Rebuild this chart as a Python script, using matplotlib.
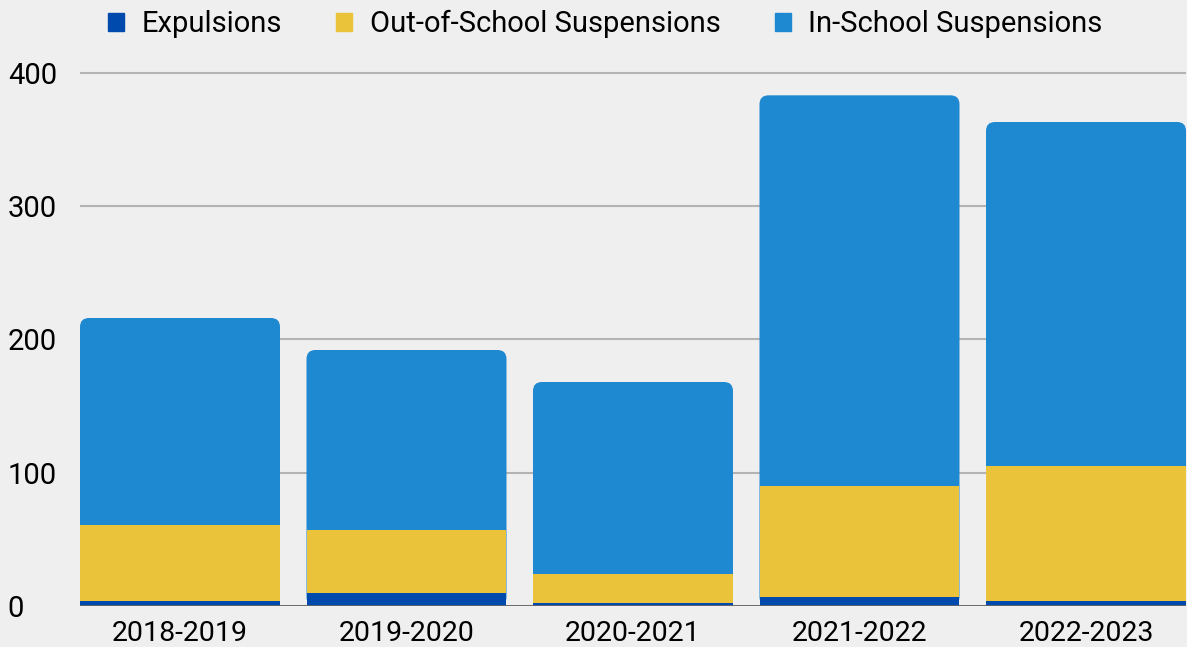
import numpy as np
import matplotlib.pyplot as plt
from matplotlib.patches import FancyBboxPatch, Patch

plt.rcParams['font.family'] = ['Roboto', 'DejaVu Sans']

anos = ["2018-2019", "2019-2020", "2020-2021", "2021-2022", "2022-2023"]
expulsoes = [4, 10, 2, 7, 4]
suspensoes_fora = [57, 47, 22, 83, 101]
suspensoes_dentro = [155, 135, 144, 293, 258]

cor_exp = "#004aad"
cor_fora = "#ebc33b"
cor_dentro = "#1e88d0"
fundo = "#efefef"

x = np.arange(len(anos))
w = 0.883
exp = np.array(expulsoes)
fora = np.array(suspensoes_fora)
dentro = np.array(suspensoes_dentro)
total = exp + fora + dentro

fig = plt.figure(figsize=(11.87, 6.47), dpi=100, facecolor=fundo)
ax = fig.add_axes([80 / 1187, 41 / 647, 1106 / 1187, 540 / 647])
ax.set_facecolor(fundo)

# segmento de cima com cantos arredondados
ppx = 1106 / (len(anos) - 1 + w)  # px por unidade x
ppy = 540 / 405                   # px por unidade y
r = 9 / ppx
for xi, t in zip(x, total):
    caixa = FancyBboxPatch((xi - w / 2 + r, r * ppx / ppy), w - 2 * r, t - 2 * r * ppx / ppy,
                           boxstyle=f"round,pad={r}", mutation_aspect=ppx / ppy,
                           facecolor=cor_dentro, edgecolor="none", zorder=2)
    ax.add_patch(caixa)

ax.bar(x, fora, w, bottom=exp, color=cor_fora, zorder=3)
ax.bar(x, exp, w, color=cor_exp, zorder=3)

ax.set_xlim(-w / 2, len(anos) - 1 + w / 2)
ax.set_ylim(0, 405)
ax.set_yticks([0, 100, 200, 300, 400])
ax.set_xticks(x)
ax.set_xticklabels(anos)
ax.grid(axis='y', color="#b3b3b3", linewidth=1.5, zorder=1)
ax.set_axisbelow(True)
ax.axhline(0, color="#666666", linewidth=2, zorder=4)
for s in ax.spines.values():
    s.set_visible(False)
ax.tick_params(length=0)
ax.tick_params(axis='x', labelsize=20.5, pad=10)
ax.tick_params(axis='y', labelsize=21, pad=52)
for lb in ax.get_yticklabels():
    lb.set_horizontalalignment('left')

handles = [Patch(color=cor_exp), Patch(color=cor_fora), Patch(color=cor_dentro)]
fig.legend(handles, ["Expulsions", "Out-of-School Suspensions", "In-School Suspensions"],
           loc='upper center', bbox_to_anchor=(0.51, 1.025), ncol=3, frameon=False,
           fontsize=21, handlelength=0.55, handleheight=0.55, handletextpad=0.6,
           columnspacing=1.85)

fig.savefig("out.png", facecolor=fundo)
